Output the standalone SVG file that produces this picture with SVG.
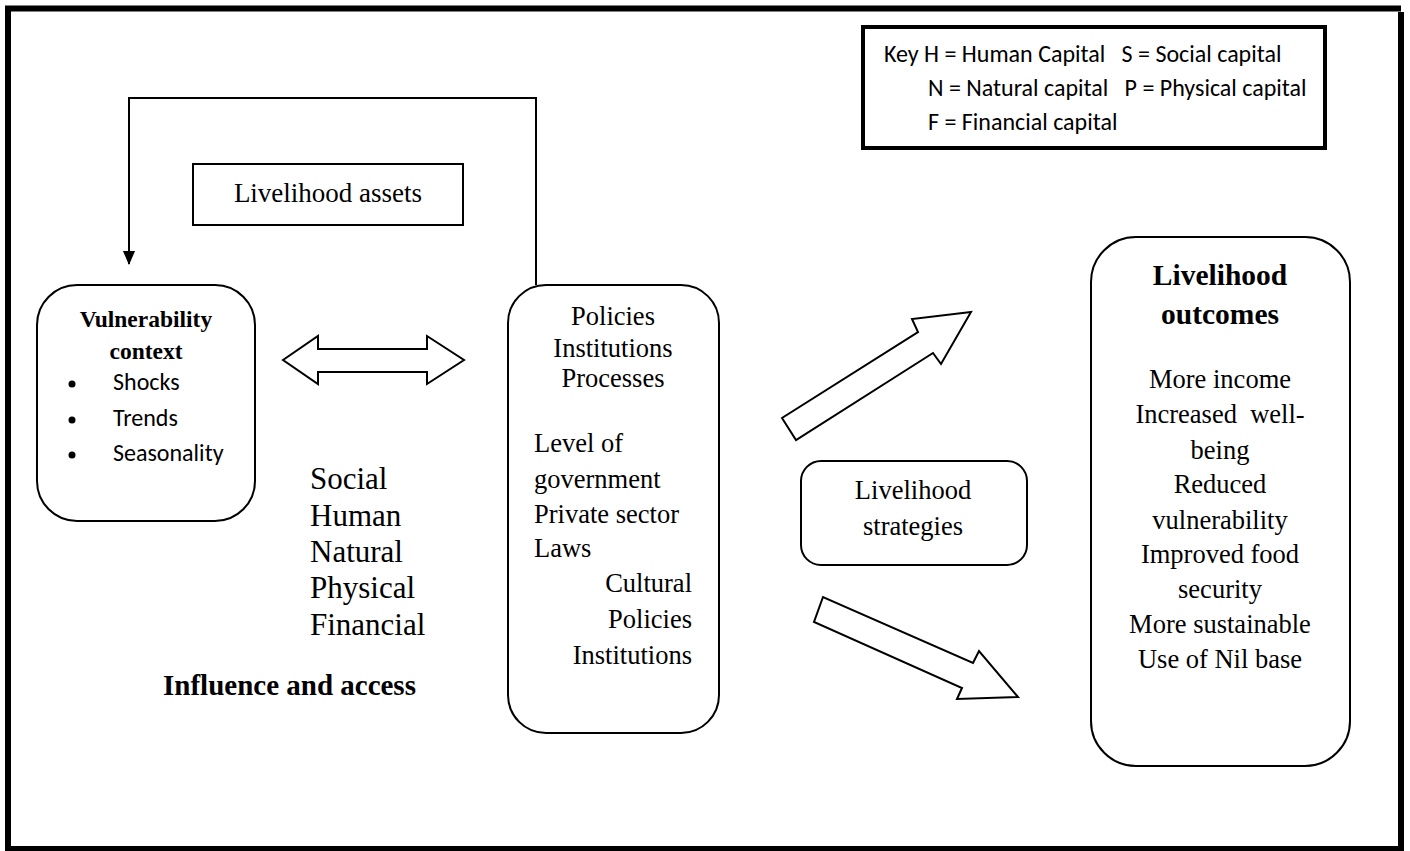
<svg xmlns="http://www.w3.org/2000/svg" width="1410" height="851" viewBox="0 0 1410 851">
<style>
.b{fill:#fff;stroke:#000;stroke-width:2}
.t{font-family:"Liberation Serif","Times New Roman",serif;fill:#000}
.c{font-family:"Carlito","Open Sans","Liberation Sans",sans-serif;fill:#000}
.m{text-anchor:middle}
.e{text-anchor:end}
</style>
<defs>
<marker id="ah" markerWidth="14" markerHeight="16" refX="15" refY="7" orient="auto" markerUnits="userSpaceOnUse" viewBox="0 0 16 14">
<path d="M0,0 L16,7 L0,14 Z" fill="#000"/>
</marker>
</defs>
<rect width="1410" height="851" fill="#fff"/>
<g id="frame" fill="none" stroke="#000" stroke-width="6">
<path d="M8,851 V8.5 H1401"/>
<path d="M1401,12 V849 H8"/>
</g>
<g id="key">
<rect x="863" y="27" width="462" height="121" fill="#fff" stroke="#000" stroke-width="4"/>
<text class="c" x="884" y="62" font-size="24" xml:space="preserve">Key H = Human Capital   S = Social capital</text>
<text class="c" x="928" y="96" font-size="24" xml:space="preserve">N = Natural capital   P = Physical capital</text>
<text class="c" x="928" y="130" font-size="24">F = Financial capital</text>
</g>
<g id="connectors" fill="none" stroke="#000" stroke-width="2">
<path d="M536,285 V98 H129 V264" marker-end="url(#ah)"/>
<polygon class="b" points="283,360 318,336 318,349 427,349 427,336 464,360 427,384 427,372 318,372 318,384"/>
<polygon class="b" points="782,418 796,440 933,353 941,364 971,312 912,319 918,332"/>
<polygon class="b" points="823,597 814,622 962,688 957,699 1018,697 979,651 973,663"/>
</g>
<g id="assets">
<rect class="b" x="193" y="164" width="270" height="61"/>
<text class="t m" x="328" y="202" font-size="27">Livelihood assets</text>
</g>
<g id="vulnerability">
<rect class="b" x="37" y="285" width="218" height="236" rx="40"/>
<text class="t m" x="146" y="327" font-size="23.5" font-weight="bold">Vulnerability</text>
<text class="t m" x="146" y="359" font-size="23.5" font-weight="bold">context</text>
<circle cx="72" cy="384" r="3.5"/>
<circle cx="72" cy="420" r="3.5"/>
<circle cx="72" cy="455" r="3.5"/>
<text class="c" x="113" y="390" font-size="24">Shocks</text>
<text class="c" x="113" y="426" font-size="24">Trends</text>
<text class="c" x="113" y="461" font-size="24">Seasonality</text>
</g>
<g id="capitals">
<text class="t" x="310" y="489" font-size="31">Social</text>
<text class="t" x="310" y="526" font-size="31">Human</text>
<text class="t" x="310" y="562" font-size="31">Natural</text>
<text class="t" x="310" y="598" font-size="31">Physical</text>
<text class="t" x="310" y="635" font-size="31">Financial</text>
<text class="t" x="163" y="695" font-size="29" font-weight="bold">Influence and access</text>
</g>
<g id="policies">
<rect class="b" x="508" y="285" width="211" height="448" rx="38"/>
<text class="t m" x="613" y="325" font-size="26.5">Policies</text>
<text class="t m" x="613" y="357" font-size="26.5">Institutions</text>
<text class="t m" x="613" y="387" font-size="26.5">Processes</text>
<text class="t" x="534" y="452" font-size="26.5">Level of</text>
<text class="t" x="534" y="488" font-size="26.5">government</text>
<text class="t" x="534" y="523" font-size="26.5">Private sector</text>
<text class="t" x="534" y="557" font-size="26.5">Laws</text>
<text class="t e" x="692" y="592" font-size="26.5">Cultural</text>
<text class="t e" x="692" y="628" font-size="26.5">Policies</text>
<text class="t e" x="692" y="664" font-size="26.5">Institutions</text>
</g>
<g id="strategies">
<rect class="b" x="801" y="461" width="226" height="104" rx="20"/>
<text class="t m" x="913" y="499" font-size="26.5">Livelihood</text>
<text class="t m" x="913" y="535" font-size="26.5">strategies</text>
</g>
<g id="outcomes">
<rect class="b" x="1091" y="237" width="259" height="529" rx="45"/>
<text class="t m" x="1220" y="285" font-size="29.5" font-weight="bold">Livelihood</text>
<text class="t m" x="1220" y="324" font-size="29.5" font-weight="bold">outcomes</text>
<text class="t m" x="1220" y="388" font-size="26.5">More income</text>
<text class="t m" x="1220" y="423" font-size="26.5" xml:space="preserve">Increased  well-</text>
<text class="t m" x="1220" y="459" font-size="26.5">being</text>
<text class="t m" x="1220" y="493" font-size="26.5">Reduced</text>
<text class="t m" x="1220" y="529" font-size="26.5">vulnerability</text>
<text class="t m" x="1220" y="563" font-size="26.5">Improved food</text>
<text class="t m" x="1220" y="598" font-size="26.5">security</text>
<text class="t m" x="1220" y="633" font-size="26.5">More sustainable</text>
<text class="t m" x="1220" y="668" font-size="26.5">Use of Nil base</text>
</g>
</svg>
